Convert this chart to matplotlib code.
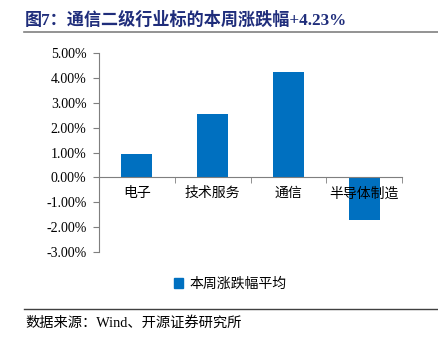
import matplotlib.pyplot as plt
import matplotlib.lines as mlines
import matplotlib.patches as mpatches
import numpy as np

# ===== DATA =====
categories = ["电子", "技术服务", "通信", "半导体制造"]
values = [0.94, 2.55, 4.23, -1.73]  # %
yticks = [-3, -2, -1, 0, 1, 2, 3, 4, 5]
series_name = "本周涨跌幅平均"
title = "图7：通信二级行业标的本周涨跌幅+4.23%"
source = "数据来源：Wind、开源证券研究所"

plt.rcParams["font.family"] = ["Liberation Serif", "Noto Sans CJK SC"]
BLUE = "#0070C0"
NAVY = "#1F2D7B"
AXIS = "#7F7F7F"

fig = plt.figure(figsize=(4.38, 3.39), dpi=100)
ax = fig.add_axes([0.226, 0.2566, 0.692, 0.587])

x = np.arange(len(categories))
ax.bar(x, values, width=0.41, color=BLUE, label=series_name)

ax.set_xlim(-0.5, len(categories) - 0.5)
ax.set_ylim(-3, 5)
ax.set_yticks(yticks)
ax.set_yticklabels([f"{v:.2f}%" for v in yticks], fontsize=10)

# category labels at centers, ticks at boundaries
ax.set_xticks(x)
ax.set_xticklabels(categories, fontsize=10)
ax.set_xticks(np.arange(len(categories) + 1) - 0.5, minor=True)
ax.tick_params(axis="x", which="major", length=0, pad=7)
ax.tick_params(axis="x", which="minor", length=4, direction="out", color=AXIS)
ax.tick_params(axis="y", length=4, color=AXIS, pad=5)

for s in ["top", "right"]:
    ax.spines[s].set_visible(False)
ax.spines["bottom"].set_position(("data", 0))
ax.spines["bottom"].set_color(AXIS)
ax.spines["left"].set_color(AXIS)

# title and rules
fig.text(0.057, 0.941, title, fontsize=12.3, fontweight="bold", color=NAVY,
         va="center", ha="left")
fig.add_artist(mlines.Line2D([0.055, 1.0], [0.906, 0.906], color="#808080", lw=1.2))
fig.add_artist(mlines.Line2D([0.055, 1.0], [0.088, 0.088], color="#404040", lw=1.0))
fig.text(0.057, 0.048, source, fontsize=10.3, va="center", ha="left")

handle = mpatches.Patch(color=BLUE)
fig.legend([handle], [series_name], loc="center", bbox_to_anchor=(0.525, 0.162),
           frameon=False, fontsize=10, handlelength=0.7, handleheight=0.7,
           handletextpad=0.4)

fig.savefig("out.png", dpi=100)
